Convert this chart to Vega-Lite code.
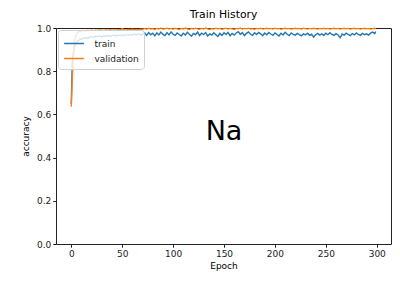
{
  "$schema": "https://vega.github.io/schema/vega-lite/v6.json",
  "width": 335,
  "height": 216,
  "autosize": "none",
  "padding": {"left": 56, "top": 28, "right": 9, "bottom": 38},
  "title": {"text": "Train History", "fontSize": 10.8, "fontWeight": "normal", "font": "DejaVu Sans", "color": "#000", "offset": 4},
  "config": {
    "view": {"stroke": "#222", "strokeWidth": 1},
    "axis": {"grid": false, "domain": false, "labelFont": "DejaVu Sans", "labelFontSize": 9, "labelColor": "#222", "titleFont": "DejaVu Sans", "titleFontSize": 9, "titleFontWeight": "normal", "titleColor": "#000", "tickColor": "#222", "tickSize": 3.2, "labelPadding": 2}
  },
  "layer": [
    {
      "data": {"values": [
        {"e":0,"train":0.648,"validation":0.635},{"e":1,"train":0.84,"validation":0.76},{"e":2,"train":0.885,"validation":0.87},{"e":3,"train":0.91,"validation":0.93},{"e":4,"train":0.925,"validation":0.958},{"e":5,"train":0.93,"validation":0.97},{"e":6,"train":0.938,"validation":0.978},{"e":7,"train":0.942,"validation":0.982},{"e":8,"train":0.945,"validation":0.985},{"e":9,"train":0.948,"validation":0.984},{"e":10,"train":0.95,"validation":0.987},
        {"e":12,"train":0.953,"validation":0.988},{"e":14,"train":0.955,"validation":0.986},{"e":16,"train":0.952,"validation":0.989},{"e":18,"train":0.958,"validation":0.988},{"e":20,"train":0.96,"validation":0.99},{"e":22,"train":0.957,"validation":0.988},{"e":24,"train":0.962,"validation":0.99},{"e":26,"train":0.96,"validation":0.989},{"e":28,"train":0.963,"validation":0.991},{"e":30,"train":0.958,"validation":0.99},
        {"e":32,"train":0.964,"validation":0.989},{"e":34,"train":0.962,"validation":0.991},{"e":36,"train":0.966,"validation":0.99},{"e":38,"train":0.961,"validation":0.992},{"e":40,"train":0.965,"validation":0.99},{"e":42,"train":0.968,"validation":0.991},{"e":44,"train":0.963,"validation":0.99},{"e":46,"train":0.967,"validation":0.992},{"e":48,"train":0.965,"validation":0.991},{"e":50,"train":0.969,"validation":0.996},
        {"e":52,"train":0.964,"validation":0.992},{"e":54,"train":0.97,"validation":0.991},{"e":56,"train":0.966,"validation":0.993},{"e":58,"train":0.971,"validation":0.992},{"e":60,"train":0.967,"validation":0.994},{"e":62,"train":0.972,"validation":0.992},{"e":64,"train":0.968,"validation":0.993},{"e":66,"train":0.973,"validation":0.991},{"e":68,"train":0.969,"validation":0.994},{"e":70,"train":0.972,"validation":0.993},
        {"e":72,"train":0.978,"validation":0.998},{"e":74,"train":0.966,"validation":0.994},{"e":76,"train":0.979,"validation":0.999},{"e":78,"train":0.969,"validation":0.995},{"e":80,"train":0.976,"validation":0.997},{"e":82,"train":0.964,"validation":0.993},{"e":84,"train":0.978,"validation":0.998},{"e":86,"train":0.968,"validation":0.995},{"e":88,"train":0.981,"validation":1.0},{"e":90,"train":0.97,"validation":0.994},
        {"e":92,"train":0.965,"validation":0.997},{"e":94,"train":0.979,"validation":0.999},{"e":96,"train":0.968,"validation":0.995},{"e":98,"train":0.982,"validation":0.998},{"e":100,"train":0.971,"validation":0.994},{"e":102,"train":0.966,"validation":0.999},{"e":104,"train":0.977,"validation":0.996},{"e":106,"train":0.97,"validation":0.993},{"e":108,"train":0.963,"validation":0.998},{"e":110,"train":0.976,"validation":0.995},
        {"e":112,"train":0.968,"validation":1.0},{"e":114,"train":0.98,"validation":0.996},{"e":116,"train":0.971,"validation":0.993},{"e":118,"train":0.962,"validation":0.998},{"e":120,"train":0.975,"validation":0.995},{"e":122,"train":0.969,"validation":0.999},{"e":124,"train":0.981,"validation":0.996},{"e":126,"train":0.965,"validation":0.994},{"e":128,"train":0.976,"validation":0.998},{"e":130,"train":0.97,"validation":0.995},
        {"e":132,"train":0.979,"validation":1.0},{"e":134,"train":0.963,"validation":0.996},{"e":136,"train":0.973,"validation":0.993},{"e":138,"train":0.967,"validation":0.997},{"e":140,"train":0.978,"validation":0.995},{"e":142,"train":0.969,"validation":0.999},{"e":144,"train":0.961,"validation":0.996},{"e":146,"train":0.975,"validation":0.998},{"e":148,"train":0.966,"validation":0.994},{"e":150,"train":0.978,"validation":0.997},
        {"e":152,"train":0.97,"validation":0.999},{"e":154,"train":0.98,"validation":0.995},{"e":156,"train":0.964,"validation":0.998},{"e":158,"train":0.975,"validation":0.996},{"e":160,"train":0.967,"validation":0.993},{"e":162,"train":0.977,"validation":0.998},{"e":164,"train":0.983,"validation":0.996},{"e":166,"train":0.97,"validation":1.0},{"e":168,"train":0.979,"validation":0.995},{"e":170,"train":0.965,"validation":0.998},
        {"e":172,"train":0.975,"validation":0.996},{"e":174,"train":0.982,"validation":0.999},{"e":176,"train":0.971,"validation":0.995},{"e":178,"train":0.966,"validation":0.997},{"e":180,"train":0.978,"validation":0.994},{"e":182,"train":0.97,"validation":0.998},{"e":184,"train":0.98,"validation":0.996},{"e":186,"train":0.973,"validation":0.999},{"e":188,"train":0.964,"validation":0.995},{"e":190,"train":0.977,"validation":0.997},
        {"e":192,"train":0.969,"validation":0.999},{"e":194,"train":0.979,"validation":0.996},{"e":196,"train":0.972,"validation":0.998},{"e":198,"train":0.966,"validation":0.995},{"e":200,"train":0.977,"validation":0.999},{"e":202,"train":0.97,"validation":0.996},{"e":204,"train":0.963,"validation":0.998},{"e":206,"train":0.976,"validation":0.994},{"e":208,"train":0.968,"validation":0.997},{"e":210,"train":0.98,"validation":0.999},
        {"e":212,"train":0.971,"validation":0.996},{"e":214,"train":0.965,"validation":0.998},{"e":216,"train":0.977,"validation":0.995},{"e":218,"train":0.97,"validation":0.997},{"e":220,"train":0.967,"validation":0.999},{"e":222,"train":0.975,"validation":0.996},{"e":224,"train":0.969,"validation":0.998},{"e":226,"train":0.964,"validation":0.995},{"e":228,"train":0.973,"validation":0.999},{"e":230,"train":0.968,"validation":0.997},
        {"e":232,"train":0.976,"validation":0.995},{"e":234,"train":0.966,"validation":0.998},{"e":236,"train":0.971,"validation":0.996},{"e":238,"train":0.958,"validation":0.999},{"e":240,"train":0.969,"validation":0.997},{"e":242,"train":0.975,"validation":0.995},{"e":244,"train":0.967,"validation":0.998},{"e":246,"train":0.973,"validation":0.996},{"e":248,"train":0.965,"validation":0.999},{"e":250,"train":0.976,"validation":0.996},
        {"e":252,"train":0.969,"validation":0.998},{"e":254,"train":0.978,"validation":0.995},{"e":256,"train":0.97,"validation":0.997},{"e":258,"train":0.966,"validation":0.999},{"e":260,"train":0.974,"validation":0.996},{"e":262,"train":0.968,"validation":0.998},{"e":264,"train":0.955,"validation":0.995},{"e":266,"train":0.972,"validation":0.997},{"e":268,"train":0.967,"validation":0.999},{"e":270,"train":0.976,"validation":0.996},
        {"e":272,"train":0.97,"validation":0.998},{"e":274,"train":0.965,"validation":0.995},{"e":276,"train":0.974,"validation":0.997},{"e":278,"train":0.968,"validation":0.999},{"e":280,"train":0.977,"validation":0.996},{"e":282,"train":0.97,"validation":0.998},{"e":284,"train":0.966,"validation":0.995},{"e":286,"train":0.975,"validation":0.997},{"e":288,"train":0.969,"validation":0.999},{"e":290,"train":0.973,"validation":0.996},
        {"e":292,"train":0.967,"validation":0.998},{"e":294,"train":0.976,"validation":0.995},{"e":296,"train":0.981,"validation":0.997},{"e":298,"train":0.974,"validation":0.999},{"e":299,"train":0.984,"validation":0.996}
      ]},
      "transform": [{"fold": ["train", "validation"], "as": ["series", "acc"]}],
      "mark": {"type": "line", "strokeWidth": 1.4},
      "encoding": {
        "x": {"field": "e", "type": "quantitative", "scale": {"domain": [-15, 314], "nice": false, "zero": false},
              "axis": {"values": [0, 50, 100, 150, 200, 250, 300], "title": "Epoch", "titlePadding": 3}},
        "y": {"field": "acc", "type": "quantitative", "scale": {"domain": [0, 1], "nice": false},
              "axis": {"values": [0, 0.2, 0.4, 0.6, 0.8, 1.0], "format": ".1f", "title": "accuracy", "titlePadding": 6}},
        "color": {"field": "series", "type": "nominal",
                  "scale": {"domain": ["train", "validation"], "range": ["#1f77b4", "#ff7f0e"]},
                  "legend": {"title": null, "orient": "top-left", "offset": 2, "symbolType": "M-1.3,0H1.3", "symbolSize": 230, "symbolStrokeWidth": 1.5, "symbolOffset": 2.5,
                             "labelFont": "DejaVu Sans", "labelFontSize": 9, "labelColor": "#222", "labelOffset": 12,
                             "fillColor": "rgba(255,255,255,0.8)", "strokeColor": "#d0d0d0", "cornerRadius": 3, "padding": 5, "rowPadding": 1}}
      }
    },
    {
      "data": {"values": [{"e": 150, "acc": 0.52, "label": "Na"}]},
      "mark": {"type": "text", "font": "DejaVu Sans", "fontSize": 27, "color": "#000", "align": "center", "baseline": "middle"},
      "encoding": {
        "x": {"field": "e", "type": "quantitative"},
        "y": {"field": "acc", "type": "quantitative"},
        "text": {"field": "label"}
      }
    }
  ]
}
